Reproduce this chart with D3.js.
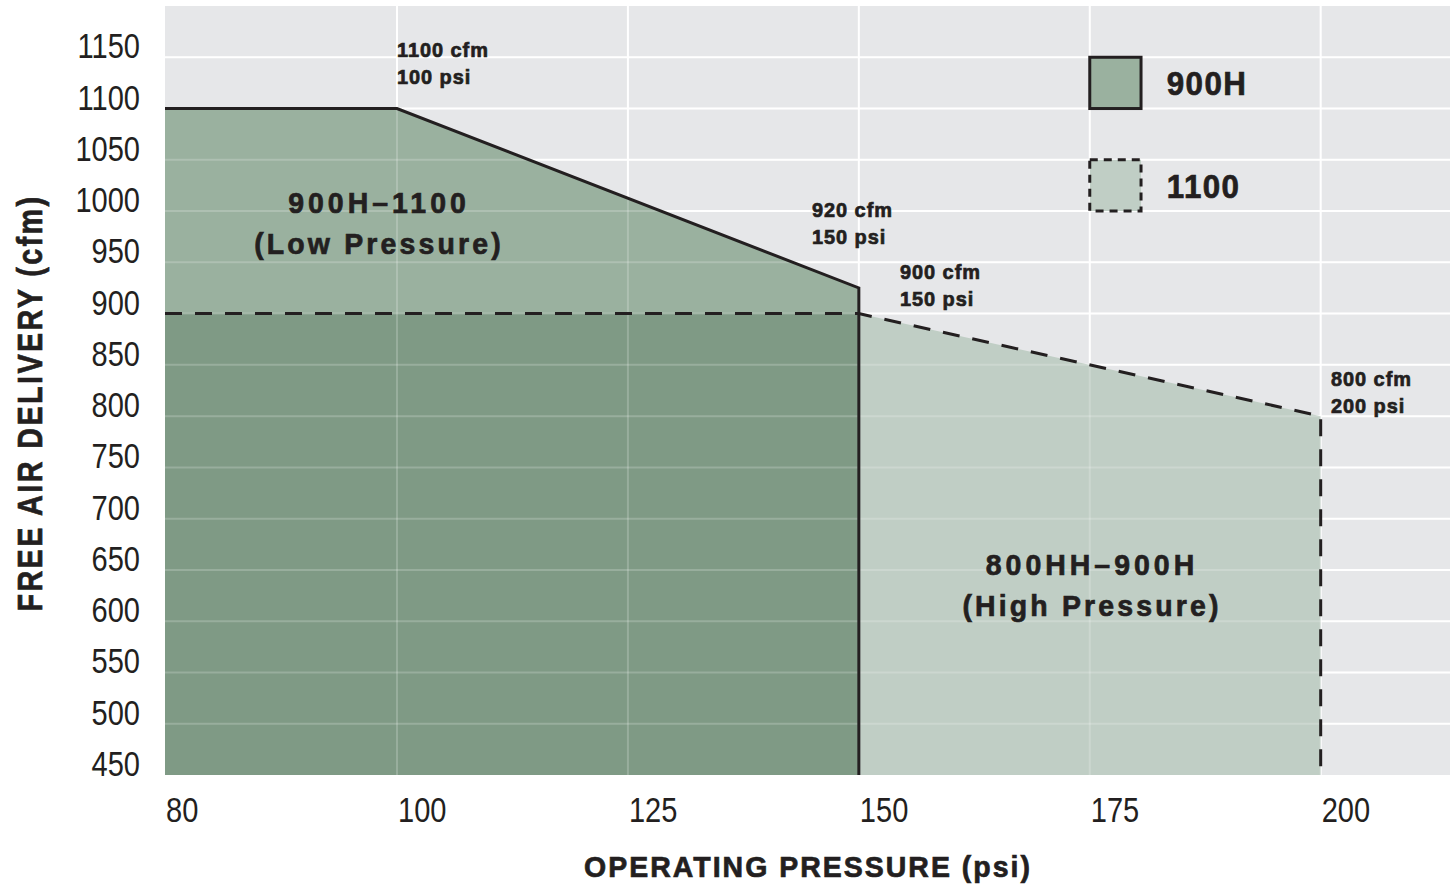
<!DOCTYPE html>
<html>
<head>
<meta charset="utf-8">
<script src="https://cdn.jsdelivr.net/npm/d3@7"></script>
<style>
  body { margin: 0; background: #fff; }
  text { fill: #231f20; font-family: "Liberation Sans", Arial, sans-serif; }
</style>
</head>
<body>
<div id="chart"></div>
<script>
// pressure (psi) / free air delivery (cfm) outlines
const psi900H = [80, 100, 150];
const cfm900H = [1100, 1100, 925];
const psi1100 = [80, 150, 200];
const cfm1100 = [900, 900, 800];

const yTicks = [450, 500, 550, 600, 650, 700, 750, 800, 850, 900, 950, 1000, 1050, 1100, 1150];
const xTicks = [80, 100, 125, 150, 175, 200];

const legendNames = ["900H", "1100"];
const pointNotes = [["1100 cfm", "100 psi"], ["920 cfm", "150 psi"], ["900 cfm", "150 psi"], ["800 cfm", "200 psi"]];
const regionNames = [["900H\u20131100", "(Low Pressure)"], ["800HH\u2013900H", "(High Pressure)"]];

const width = 1450, height = 886;
const plotLeft = 165, plotRight = 1450, plotTop = 6, plotBottom = 775;

const svg = d3.select("#chart").append("svg")
    .attr("width", width)
    .attr("height", height);

// axis is broken between 80 and 100, so the scale is piecewise
const x = d3.scaleLinear().domain([80, 100, 214]).range([plotLeft, 397, plotRight]);
const y = d3.scaleLinear().domain([450, 1200]).range([plotBottom, plotTop]);

const bg = "#e6e7e9", c900H = "#9ab19f", c1100 = "#c0cec5", cBoth = "#7f9a85";

// condensed text: no narrow font installed, so squeeze horizontally
function label(parent, px, py, str, o) {
    const sx = o.sx || 0.95;
    const t = parent.append("text")
        .attr("transform", `translate(${px},${py}) scale(${sx},1)`)
        .attr("font-size", o.size)
        .attr("letter-spacing", o.ls || 0)
        .attr("text-anchor", o.anchor || "start")
        .text(str);
    if (o.bold) {
        t.attr("font-weight", "bold")
            .attr("stroke", "#231f20").attr("stroke-width", 0.7);
    }
    return t;
}

svg.append("rect")
    .attr("x", plotLeft).attr("y", plotTop)
    .attr("width", plotRight - plotLeft).attr("height", plotBottom - plotTop)
    .attr("fill", bg);

function grid(opacity) {
    const g = svg.append("g").attr("stroke", "#fff").attr("stroke-opacity", opacity).attr("stroke-width", 2);
    g.selectAll("line.h").data(yTicks.slice(1)).enter().append("line")
        .attr("x1", plotLeft).attr("x2", plotRight)
        .attr("y1", d => y(d)).attr("y2", d => y(d));
    g.selectAll("line.v").data(xTicks.slice(1)).enter().append("line")
        .attr("y1", plotTop).attr("y2", plotBottom)
        .attr("x1", d => x(d)).attr("x2", d => x(d));
}
grid(1);

const pts900H = psi900H.map((p, i) => [p, cfm900H[i]]);
const pts1100 = psi1100.map((p, i) => [p, cfm1100[i]]);
const maxPsi900H = d3.max(psi900H);
const ptsBoth = pts1100.filter(d => d[0] <= maxPsi900H);

const area = d3.area().x(d => x(d[0])).y0(y(450)).y1(d => y(d[1]));

svg.append("path").datum(pts1100).attr("d", area).attr("fill", c1100);
svg.append("path").datum(pts900H).attr("d", area).attr("fill", c900H);
svg.append("path").datum(ptsBoth).attr("d", area).attr("fill", cBoth);

grid(0.2);

// outlines
const line = d3.line().x(d => x(d[0])).y(d => y(d[1]));
svg.append("path")
    .datum(pts900H.concat([[maxPsi900H, 450]]))
    .attr("d", line)
    .attr("fill", "none").attr("stroke", "#231f20").attr("stroke-width", 3);
svg.append("path")
    .datum(pts1100.concat([[d3.max(psi1100), 450]]))
    .attr("d", line)
    .attr("fill", "none").attr("stroke", "#231f20").attr("stroke-width", 3)
    .attr("stroke-dasharray", "17,13");

// tick labels
const ticks = svg.append("g");
yTicks.forEach(v => label(ticks, 140, y(v) + 1, v, { size: 35, sx: 0.83, anchor: "end" }));
xTicks.forEach(v => label(ticks, x(v) + 1, 822, v, { size: 35, sx: 0.83 }));

// axis titles
label(svg, 808, 877, "OPERATING PRESSURE (psi)", { size: 30, bold: true, ls: 2.1, anchor: "middle" });
svg.append("g").attr("transform", "translate(42,403) rotate(-90)")
    .call(g => label(g, 0, 0, "FREE AIR DELIVERY (cfm)", { size: 36, bold: true, sx: 0.8, ls: 3, anchor: "middle" }));

// point notes
const noteAt = [[397, 57], [812, 217], [900, 279], [1331, 386]];
pointNotes.forEach((lines, i) => {
    lines.forEach((s, j) => {
        label(svg, noteAt[i][0], noteAt[i][1] + j * 27, s, { size: 21, bold: true, ls: 1 });
    });
});

// region labels
const regionAt = [[379, 213], [1092, 575]];
regionNames.forEach((lines, i) => {
    lines.forEach((s, j) => {
        label(svg, regionAt[i][0], regionAt[i][1] + j * 41, s,
            { size: 30, bold: true, ls: j === 0 ? 4.2 : 3.3, anchor: "middle" });
    });
});

// legend, aligned to the grid
const legend = svg.append("g");
const lx = x(175), lw = y(1100) - y(1150);
const legendRows = [1150, 1050];
legendNames.forEach((name, i) => {
    legend.append("rect")
        .attr("x", lx).attr("y", y(legendRows[i]))
        .attr("width", lw).attr("height", lw)
        .attr("fill", i === 0 ? c900H : c1100)
        .attr("stroke", "#231f20").attr("stroke-width", 3)
        .attr("stroke-dasharray", i === 0 ? null : "8,6");
    label(legend, lx + 77, y(legendRows[i]) + 38, name, { size: 33, bold: true, ls: 1.5 });
});
</script>
</body>
</html>
